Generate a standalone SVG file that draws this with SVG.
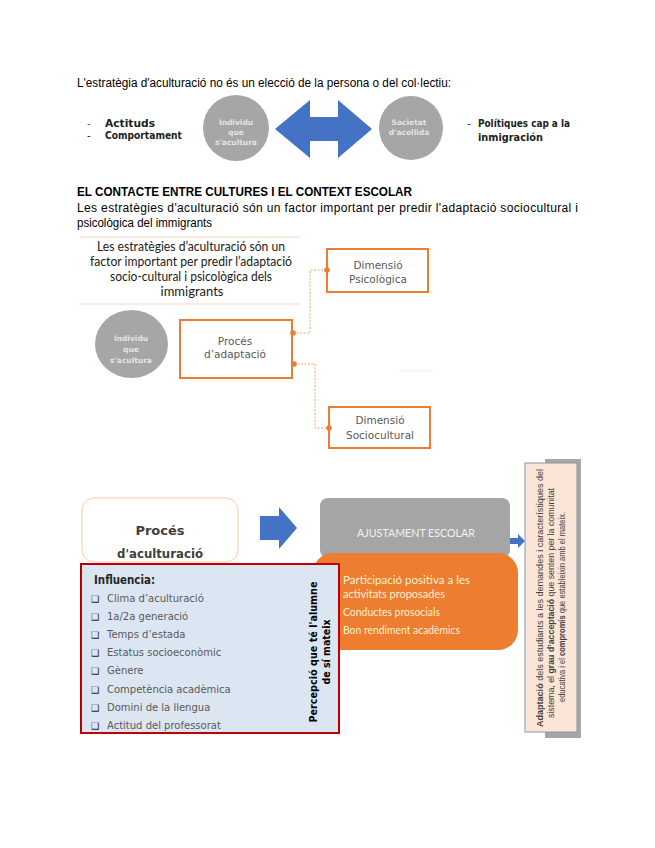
<svg xmlns="http://www.w3.org/2000/svg" width="655" height="848" viewBox="0 0 655 848">
<defs>
<style>
.ar{font-family:"Liberation Sans",Arial,sans-serif;fill:#000}
.cg{font-family:"DejaVu Sans","Liberation Sans",sans-serif}
.ca{font-family:Lato,"Liberation Sans",sans-serif}
.circ{fill:#a6a6a6}
.ctxt{font-family:"DejaVu Sans","Liberation Sans",sans-serif;font-size:7.5px;font-weight:bold;fill:#e4e4e4;text-anchor:middle}
.obox{fill:#fff;stroke:#ed7d31;stroke-width:2}
.btxt{font-family:"DejaVu Sans","Liberation Sans",sans-serif;font-size:10.5px;fill:#595959;text-anchor:middle}
.dash{fill:none;stroke:#f4a46c;stroke-width:1;stroke-dasharray:2 1.5}
.dot{fill:#ed7d31}
.item{font-family:"DejaVu Sans","Liberation Sans",sans-serif;font-size:10px;fill:#595959}
.chk{font-family:"DejaVu Sans",sans-serif;font-size:9px;fill:#222}
.otxt{font-family:Lato,"Liberation Sans",sans-serif;font-size:11.5px;fill:#fff2cc}
.rt{font-family:"Liberation Sans",Arial,sans-serif;font-size:8.2px;fill:#404040;text-anchor:middle}
</style>
</defs>
<rect width="655" height="848" fill="#fff"/>

<!-- Section 1 -->
<text class="ar" x="77" y="87" font-size="12" textLength="374" lengthAdjust="spacingAndGlyphs">L'estratègia d'aculturació no és un elecció de la persona o del col·lectiu:</text>
<g id="list-left">
<text class="cg" x="87" y="127" font-size="10.5" fill="#555">-</text>
<text class="cg" x="105" y="127" font-size="10.5" font-weight="bold" fill="#222" textLength="50" lengthAdjust="spacingAndGlyphs">Actituds</text>
<text class="cg" x="87" y="139" font-size="10.5" fill="#222">-</text>
<text class="cg" x="105" y="139" font-size="10.5" font-weight="bold" fill="#222" textLength="77" lengthAdjust="spacingAndGlyphs">Comportament</text>
</g>
<g id="individu1">
<circle class="circ" cx="236" cy="128" r="33"/>
<text class="ctxt" x="236" y="125">Individu</text>
<text class="ctxt" x="236" y="135">que</text>
<text class="ctxt" x="236" y="145">s'acultura</text>
</g>
<g id="connectors1">
<polygon points="275,129 310,100 310,117 338,117 338,100 372,129 338,158 338,141 310,141 310,158" fill="#4472c4"/>
</g>
<g id="societat">
<circle class="circ" cx="411" cy="128" r="32"/>
<text class="ctxt" x="409" y="125">Societat</text>
<text class="ctxt" x="409" y="135">d'acollida</text>
</g>
<g id="list-right">
<text class="cg" x="467" y="127" font-size="10.5" fill="#222">-</text>
<text class="cg" x="478" y="127" font-size="10.5" font-weight="bold" fill="#222" textLength="92" lengthAdjust="spacingAndGlyphs">Polítiques cap a la</text>
<text class="cg" x="478" y="141" font-size="10.5" font-weight="bold" fill="#222" textLength="65" lengthAdjust="spacingAndGlyphs">inmigración</text>
</g>

<!-- Section 2 -->
<text class="ar" x="77" y="196" font-size="12" font-weight="bold" textLength="335" lengthAdjust="spacingAndGlyphs">EL CONTACTE ENTRE CULTURES I EL CONTEXT ESCOLAR</text>
<text class="ar" x="77" y="212" font-size="12" textLength="501" lengthAdjust="spacing">Les estratègies d'aculturació són un factor important per predir l'adaptació sociocultural i</text>
<text class="ar" x="77" y="227" font-size="12" textLength="135" lengthAdjust="spacingAndGlyphs">psicològica del immigrants</text>

<g id="title2">
<line x1="80" y1="237" x2="300" y2="237" stroke="#fbe5d6" stroke-width="1.5"/>
<line x1="80" y1="304" x2="300" y2="304" stroke="#fbe5d6" stroke-width="1.5"/>
<text class="ca" x="191" y="251" font-size="13" fill="#1a1a1a" text-anchor="middle" textLength="188" lengthAdjust="spacingAndGlyphs">Les estratègies d’aculturació són un</text>
<text class="ca" x="191" y="266" font-size="13" fill="#1a1a1a" text-anchor="middle" textLength="202" lengthAdjust="spacingAndGlyphs">factor important per predir l’adaptació</text>
<text class="ca" x="191" y="281" font-size="13" fill="#1a1a1a" text-anchor="middle" textLength="162" lengthAdjust="spacingAndGlyphs">socio-cultural i psicològica dels</text>
<text class="ca" x="192" y="296" font-size="13" fill="#1a1a1a" text-anchor="middle">immigrants</text>
</g>
<g id="individu2">
<ellipse class="circ" cx="131.5" cy="344" rx="36.5" ry="34"/>
<text class="ctxt" x="131" y="341">Individu</text>
<text class="ctxt" x="131" y="352">que</text>
<text class="ctxt" x="131" y="363">s'acultura</text>
</g>
<g id="proces-adaptacio">
<rect class="obox" x="180" y="320" width="112" height="58"/>
<text class="btxt" x="235" y="345">Procés</text>
<text class="btxt" x="235" y="358">d’adaptació</text>
</g>
<g id="dim-psico">
<rect class="obox" x="327" y="249" width="101" height="43"/>
<text class="btxt" x="378" y="269">Dimensió</text>
<text class="btxt" x="378" y="283">Psicològica</text>
</g>
<g id="dim-socio">
<rect class="obox" x="329" y="407" width="101" height="41"/>
<text class="btxt" x="380" y="424">Dimensió</text>
<text class="btxt" x="380" y="439">Sociocultural</text>
</g>
<g id="connectors2">
<polyline class="dash" points="293,333 310,333 310,270 327,270"/>
<circle class="dot" cx="293" cy="333" r="2.8"/>
<circle class="dot" cx="327" cy="270" r="2.8"/>
<polyline class="dash" points="294,364 315,364 315,428 329,428"/>
<circle class="dot" cx="294" cy="364" r="2.8"/>
<circle class="dot" cx="329" cy="428" r="2.8"/>
<line x1="400" y1="371" x2="431" y2="371" stroke="#fdf0e4" stroke-width="1.5"/>
</g>

<!-- Section 3 -->
<g id="proces-aculturacio">
<rect x="82" y="498" width="156" height="64" rx="12" fill="#fff" stroke="#f8cbad" stroke-width="1"/>
<text class="cg" x="160" y="535" font-size="13" font-weight="bold" fill="#404040" text-anchor="middle">Procés</text>
<text class="cg" x="160" y="558" font-size="13" font-weight="bold" fill="#404040" text-anchor="middle" textLength="86" lengthAdjust="spacingAndGlyphs">d'aculturació</text>
</g>
<g id="ajustament">
<rect x="320" y="498" width="190" height="60" rx="8" fill="#a5a5a5"/>
<text class="ca" x="416" y="537" font-size="11" fill="#f2f2f2" text-anchor="middle" textLength="118" lengthAdjust="spacingAndGlyphs">AJUSTAMENT ESCOLAR</text>
</g>
<g id="resultats">
<rect x="313" y="553" width="205" height="97" rx="20" fill="#ed7d31"/>
<text class="otxt" x="343" y="584" textLength="127" lengthAdjust="spacingAndGlyphs">Participació positiva a les</text>
<text class="otxt" x="343" y="598" textLength="102" lengthAdjust="spacingAndGlyphs">activitats proposades</text>
<text class="otxt" x="343" y="616" textLength="97" lengthAdjust="spacingAndGlyphs">Conductes prosocials</text>
<text class="otxt" x="343" y="634" textLength="117" lengthAdjust="spacingAndGlyphs">Bon rendiment acadèmics</text>
</g>
<g id="influencia">
<rect x="81" y="564" width="258" height="169" fill="#dce6f2" stroke="#c00000" stroke-width="2"/>
<text class="cg" x="94" y="584" font-size="12.5" font-weight="bold" fill="#262626" textLength="61" lengthAdjust="spacingAndGlyphs">Influencia:</text>
<text class="chk" x="91" y="602">❑</text><text class="item" x="107" y="602">Clima d’aculturació</text>
<text class="chk" x="91" y="620">❑</text><text class="item" x="107" y="620">1a/2a generació</text>
<text class="chk" x="91" y="638">❑</text><text class="item" x="107" y="638">Temps d’estada</text>
<text class="chk" x="91" y="656">❑</text><text class="item" x="107" y="656">Estatus socioeconòmic</text>
<text class="chk" x="91" y="674">❑</text><text class="item" x="107" y="674">Gènere</text>
<text class="chk" x="91" y="693">❑</text><text class="item" x="107" y="693">Competència acadèmica</text>
<text class="chk" x="91" y="711">❑</text><text class="item" x="107" y="711">Domini de la llengua</text>
<text class="chk" x="91" y="729">❑</text><text class="item" x="107" y="729">Actitud del professorat</text>
<text class="cg" transform="translate(317,652) rotate(-90)" font-size="10.5" font-weight="bold" fill="#000" text-anchor="middle" textLength="141" lengthAdjust="spacingAndGlyphs">Percepció que té l'alumne</text>
<text class="cg" transform="translate(330,652) rotate(-90)" font-size="10.5" font-weight="bold" fill="#000" text-anchor="middle" textLength="65" lengthAdjust="spacingAndGlyphs">de sí mateix</text>
</g>
<g id="adaptacio">
<rect x="545" y="459" width="36" height="279" fill="#a6a6a6"/>
<rect x="525" y="463" width="52" height="269" fill="#fbe5d6" stroke="#8497b0" stroke-width="1"/>
<text class="rt" transform="translate(543,598) rotate(-90)" textLength="258" lengthAdjust="spacingAndGlyphs"><tspan font-weight="bold">Adaptació</tspan> dels estudiants a les demandes i característiques del</text>
<text class="rt" transform="translate(554,603) rotate(-90)" textLength="230" lengthAdjust="spacingAndGlyphs">sistema, el <tspan font-weight="bold">grau d’acceptació</tspan> que senten per la comunitat</text>
<text class="rt" transform="translate(565,607) rotate(-90)" textLength="190" lengthAdjust="spacingAndGlyphs">educativa i el <tspan font-weight="bold">compromís</tspan> que estableixin amb el mateix.</text>
</g>
<g id="connectors3">
<polygon points="260,516 279,516 279,507 297,528 279,549 279,540 260,540" fill="#4472c4"/>
<polygon points="510,538 518,538 518,534 525,541 518,548 518,544 510,544" fill="#4472c4"/>
</g>
</svg>
